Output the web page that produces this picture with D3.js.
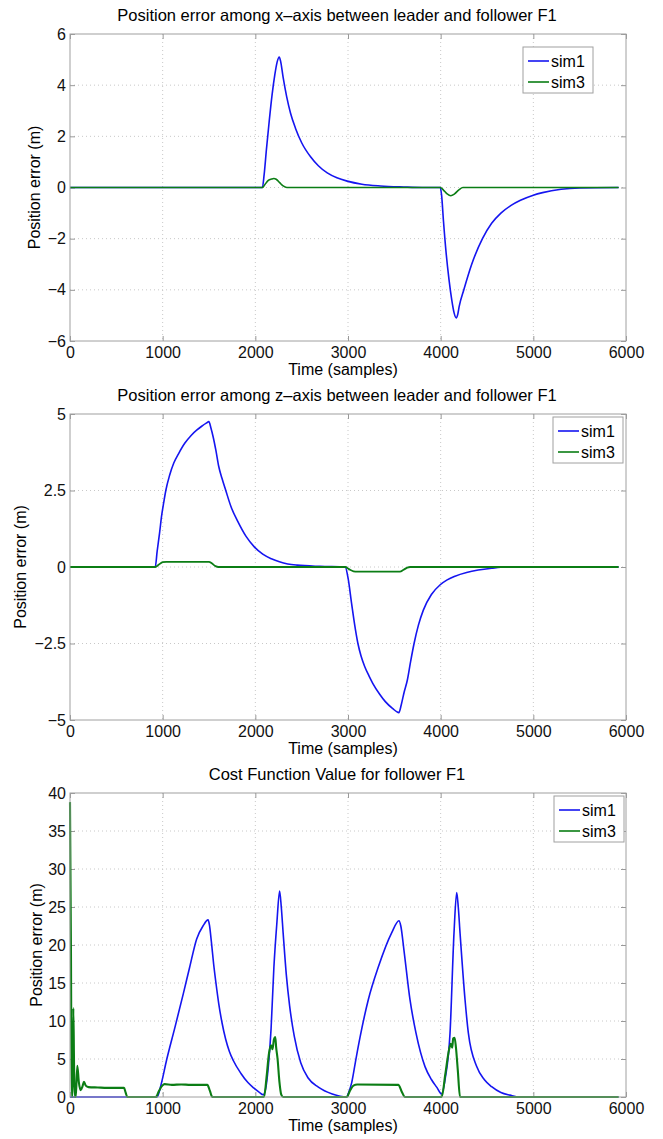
<!DOCTYPE html>
<html>
<head>
<meta charset="utf-8">
<script src="https://cdnjs.cloudflare.com/ajax/libs/d3/7.8.5/d3.min.js"></script>
<style>
  body { margin: 0; background: #fff; }
  svg { display: block; font-family: "Liberation Sans", Arial, sans-serif; }
  .grid line { stroke: #c8c8c8; stroke-dasharray: 1,3; }
  .tick text { fill: #111; }
</style>
</head>
<body>
<div id="chart"></div>
<script>
// ---- data ----
var seriesNames = ['sim1', 'sim3'];
var xTicks = [0, 1000, 2000, 3000, 4000, 5000, 6000];
var yTicksX = [-6, -4, -2, 0, 2, 4, 6];
var yTicksZ = [-5, -2.5, 0, 2.5, 5];
var yTicksCost = [0, 5, 10, 15, 20, 25, 30, 35, 40];

var titles = [
  'Position error among x\u2013axis between leader and follower F1',
  'Position error among z\u2013axis between leader and follower F1',
  'Cost Function Value for follower F1'
];

// x-axis error, [sample, metres]
var xErrSim1 = [[0,0],[1000,0],[2076,0],[2095,0.5],[2120,1.5],[2150,2.6],[2180,3.6],[2210,4.4],[2235,4.9],[2258,5.1],
  [2272,4.95],[2300,4.3],[2338,3.55],[2380,2.9],[2435,2.3],[2500,1.75],[2596,1.2],[2680,0.85],[2776,0.57],[2880,0.38],
  [2991,0.25],[3150,0.13],[3350,0.06],[3600,0.02],[3800,0],[3996,0],[4010,-0.3],[4030,-1.3],[4060,-2.6],[4090,-3.6],
  [4120,-4.4],[4145,-4.9],[4169,-5.1],[4185,-4.95],[4200,-4.65],[4250,-4.0],[4335,-3.0],[4451,-2.0],[4550,-1.4],
  [4650,-1.0],[4760,-0.7],[4861,-0.5],[5000,-0.3],[5100,-0.2],[5300,-0.07],[5500,-0.02],[5920,0]];
var xErrSim3 = [[0,0],[2076,0],[2100,0.1],[2140,0.28],[2175,0.33],[2200,0.35],[2225,0.32],[2260,0.2],[2300,0.06],
  [2340,0],[3996,0],[4030,-0.1],[4070,-0.25],[4109,-0.32],[4150,-0.25],[4200,-0.08],[4240,0],[5920,0]];

// z-axis error
var zErrSim1 = [[0,0],[920,0],[940,0.5],[966,1.1],[990,1.7],[1011,2.1],[1034,2.5],[1075,3.0],[1120,3.4],[1171,3.7],
  [1240,4.05],[1307,4.3],[1370,4.48],[1421,4.6],[1470,4.7],[1499,4.75],[1520,4.55],[1545,4.25],[1575,3.8],[1604,3.3],
  [1640,2.9],[1681,2.5],[1740,1.95],[1809,1.5],[1900,1.0],[1991,0.65],[2080,0.42],[2173,0.27],[2260,0.17],[2350,0.1],
  [2450,0.06],[2700,0.02],[2970,0],[3000,-0.35],[3039,-1.2],[3070,-1.85],[3107,-2.5],[3140,-2.9],[3180,-3.25],
  [3225,-3.55],[3267,-3.8],[3340,-4.15],[3403,-4.4],[3480,-4.62],[3549,-4.76],[3575,-4.5],[3605,-4.1],[3640,-3.7],
  [3675,-3.1],[3713,-2.5],[3760,-1.9],[3813,-1.41],[3900,-0.9],[3995,-0.58],[4070,-0.42],[4155,-0.3],[4280,-0.18],
  [4405,-0.1],[4550,-0.04],[4700,0],[5920,0]];
var zErrSim3 = [[0,0],[920,0],[960,0.08],[1000,0.16],[1040,0.17],[1500,0.17],[1530,0.12],[1570,0.03],[1600,0],
  [2970,0],[3010,-0.07],[3060,-0.14],[3100,-0.15],[3560,-0.15],[3600,-0.09],[3640,-0.02],[3670,0],[5920,0]];

// cost function value
var costSim1 = [[0,0],[940,0],[980,1.5],[1043,4.9],[1133,9.2],[1223,13.6],[1290,17.0],[1367,20.8],[1435,22.5],[1490,23.3],
  [1505,22.6],[1525,20.5],[1550,17.5],[1575,15.0],[1605,12.3],[1640,9.8],[1680,7.6],[1720,6.0],[1762,4.8],[1845,3.1],
  [1920,1.9],[1982,1.2],[2040,0.65],[2085,0.3],[2110,1.0],[2140,4.0],[2170,9.0],[2200,17.0],[2233,23.0],[2262,27.1],
  [2280,25.0],[2300,21.6],[2335,16.0],[2370,12.0],[2420,8.0],[2490,4.5],[2570,2.5],[2680,1.3],[2830,0.4],[2986,0],
  [3010,0.7],[3040,1.9],[3080,4.6],[3129,7.8],[3219,12.8],[3327,17.1],[3471,21.6],[3550,23.2],[3570,22.5],[3604,19.3],
  [3669,12.8],[3734,8.4],[3831,4.0],[3900,2.3],[3957,1.3],[4011,0.4],[4050,2.5],[4101,8.4],[4144,21.6],[4173,26.9],
  [4190,25.0],[4209,21.6],[4263,12.8],[4299,8.4],[4389,4.0],[4470,2.3],[4550,1.36],[4650,0.6],[4748,0.25],[4850,0],
  [5920,0]];
var costSim3 = [[0,38.8],[10,20],[18,0],[28,0],[36,11.7],[44,4],[52,0],[62,0],[79,4.1],[95,2],[115,0.9],[135,1.4],
  [151,2.0],[170,1.5],[200,1.3],[300,1.25],[400,1.2],[583,1.2],[600,0.6],[619,0],[925,0],[960,0.8],[996,1.5],
  [1020,1.7],[1100,1.6],[1200,1.65],[1300,1.6],[1400,1.6],[1482,1.6],[1510,0.8],[1536,0],[2094,0],[2120,2.5],
  [2148,5.8],[2170,6.8],[2185,6.3],[2201,7.6],[2215,7.9],[2225,6.5],[2240,5.0],[2260,2.0],[2280,0.3],[2300,0],
  [2986,0],[3020,0.8],[3058,1.5],[3100,1.65],[3543,1.6],[3580,0.7],[3615,0],[4011,0],[4050,3],[4090,6.2],
  [4110,7.0],[4125,6.5],[4135,7.7],[4150,7.8],[4165,6.5],[4185,3.5],[4209,0],[5920,0]];

// ---- drawing ----
var colors = ['#1515f0', '#0b7d14'];
var width = 663, height = 1139;

var svg = d3.select('#chart').append('svg')
  .attr('width', width)
  .attr('height', height);

svg.append('rect').attr('width', width).attr('height', height).attr('fill', '#fff');

var panels = [
  { title: titles[0], top: 34, bottom: 341, yDomain: [-6, 6], yTicks: yTicksX, series: [xErrSim1, xErrSim3],
    ylabX: 34, legend: [523, 47], widths: [1.6, 1.6] },
  { title: titles[1], top: 414, bottom: 720, yDomain: [-5, 5], yTicks: yTicksZ, series: [zErrSim1, zErrSim3],
    ylabX: 20, legend: [553, 417], widths: [1.6, 1.8] },
  { title: titles[2], top: 793, bottom: 1097, yDomain: [0, 40], yTicks: yTicksCost, series: [costSim1, costSim3],
    ylabX: 36, legend: [554, 796], widths: [1.6, 2.1] }
];

var left = 70, right = 626;

function fmt(d) {
  return String(d).replace('-', '\u2212');
}

panels.forEach(function(p) {
  var x = d3.scaleLinear().domain([0, 6000]).range([left, right]);
  var y = d3.scaleLinear().domain(p.yDomain).range([p.bottom, p.top]);
  var w = right - left, h = p.bottom - p.top;

  var g = svg.append('g');

  // dotted grid
  g.append('g').attr('class', 'grid')
    .selectAll('line.v').data(xTicks.slice(1, -1)).enter().append('line')
    .attr('x1', function(d) { return x(d); }).attr('x2', function(d) { return x(d); })
    .attr('y1', p.top).attr('y2', p.bottom);
  g.append('g').attr('class', 'grid')
    .selectAll('line.h').data(p.yTicks.slice(1, -1)).enter().append('line')
    .attr('x1', left).attr('x2', right)
    .attr('y1', function(d) { return y(d); }).attr('y2', function(d) { return y(d); });

  // axes with inward ticks
  var axB = g.append('g').attr('transform', 'translate(0,' + p.bottom + ')')
    .call(d3.axisBottom(x).tickValues(xTicks).tickSize(-5).tickPadding(6).tickFormat(fmt));
  var axT = g.append('g').attr('transform', 'translate(0,' + p.top + ')')
    .call(d3.axisTop(x).tickValues(xTicks).tickSize(-5).tickFormat(''));
  var axL = g.append('g').attr('transform', 'translate(' + left + ',0)')
    .call(d3.axisLeft(y).tickValues(p.yTicks).tickSize(-5).tickPadding(4).tickFormat(fmt));
  var axR = g.append('g').attr('transform', 'translate(' + right + ',0)')
    .call(d3.axisRight(y).tickValues(p.yTicks).tickSize(-5).tickFormat(''));
  [axB, axT, axL, axR].forEach(function(a) {
    a.select('.domain').remove();
    a.selectAll('.tick line').attr('stroke', '#999');
    a.selectAll('.tick text').attr('font-size', 16).attr('font-family', '"Liberation Sans", Arial, sans-serif');
  });

  // lines
  var line = d3.line()
    .x(function(d) { return x(d[0]); })
    .y(function(d) { return y(d[1]); })
    .curve(d3.curveMonotoneX);

  p.series.forEach(function(s, i) {
    g.append('path')
      .datum(s)
      .attr('fill', 'none')
      .attr('stroke', colors[i])
      .attr('stroke-width', p.widths[i])
      .attr('stroke-linejoin', 'round')
      .attr('d', line);
  });

  // box
  g.append('rect')
    .attr('x', left).attr('y', p.top)
    .attr('width', w).attr('height', h)
    .attr('fill', 'none').attr('stroke', '#a0a0a0');

  // title and labels
  g.append('text')
    .attr('x', 337).attr('y', p.top - 13)
    .attr('text-anchor', 'middle')
    .attr('font-size', 16.5)
    .text(p.title);

  g.append('text')
    .attr('x', 343).attr('y', p.bottom + 34)
    .attr('text-anchor', 'middle')
    .attr('font-size', 16)
    .text('Time (samples)');

  g.append('text')
    .attr('transform', 'translate(' + p.ylabX + ',' + (p.top + h / 2) + ') rotate(-90)')
    .attr('text-anchor', 'middle')
    .attr('dy', '0.35em')
    .attr('font-size', 16)
    .text('Position error (m)');

  // legend
  var lg = g.append('g').attr('transform', 'translate(' + p.legend[0] + ',' + p.legend[1] + ')');
  lg.append('rect')
    .attr('width', 70).attr('height', 46)
    .attr('fill', '#fff').attr('stroke', '#a0a0a0');
  seriesNames.forEach(function(name, i) {
    var cy = 14 + i * 21;
    lg.append('line')
      .attr('x1', 5).attr('x2', 26)
      .attr('y1', cy).attr('y2', cy)
      .attr('stroke', colors[i]).attr('stroke-width', 1.6);
    lg.append('text')
      .attr('x', 28).attr('y', cy)
      .attr('dy', '0.35em')
      .attr('font-size', 16)
      .text(name);
  });
});
</script>
</body>
</html>
